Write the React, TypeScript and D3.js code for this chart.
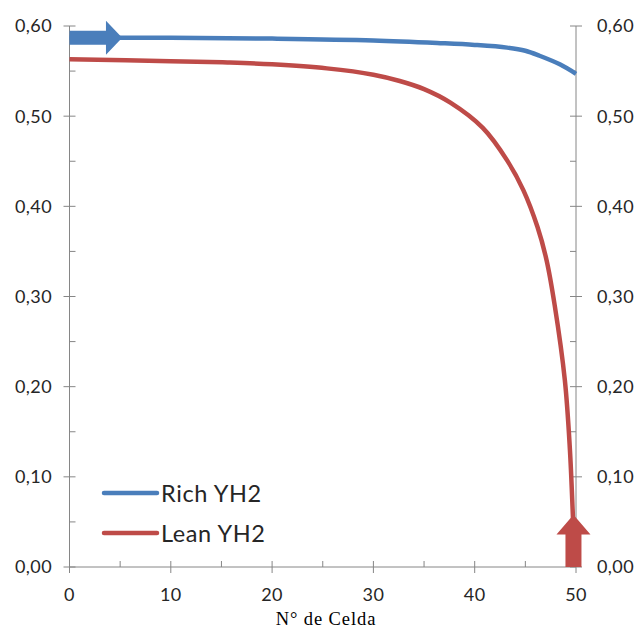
import React from "react";
import * as d3 from "d3";

const richCells = [0, 10, 20, 30, 36.6, 40, 43.2, 45, 46.4, 48.4, 50];
const richValues = [0.587, 0.587, 0.586, 0.584, 0.581, 0.579, 0.576, 0.5725, 0.567, 0.5575, 0.547];

const leanCells = [0, 10, 15.6, 20, 25.4, 30, 32.6, 35, 37.6, 40.8, 43.2, 44.8, 46.2, 47.1, 47.9, 48.9, 49.4, 49.7, 49.8];
const leanValues = [0.563, 0.561, 0.5595, 0.5575, 0.553, 0.546, 0.539, 0.53, 0.515, 0.487, 0.451, 0.418, 0.377, 0.34, 0.29, 0.207, 0.13, 0.055, 0.03];

const yTicks = [0, 0.1, 0.2, 0.3, 0.4, 0.5, 0.6];
const yMinorTicks = [0.05, 0.15, 0.25, 0.35, 0.45, 0.55];
const xTicks = [0, 10, 20, 30, 40, 50];
const xMinorTicks = [5, 15, 25, 35, 45];
const seriesNames = ["Rich YH2", "Lean YH2"];
const xTitle = "N° de Celda";

const BLUE = "#4A7EBB";
const RED = "#BE4B48";
const AXIS = "#868686";

export default function App() {
  const x = d3.scaleLinear().domain([0, 50]).range([69.5, 576]);
  const y = d3.scaleLinear().domain([0, 0.6]).range([567, 26]);
  const fmt = (v: number) => v.toFixed(2).replace(".", ",");

  const line = d3
    .line<[number, number]>()
    .x((d) => x(d[0]))
    .y((d) => y(d[1]))
    .curve(d3.curveCatmullRom.alpha(0.5));

  const rich: [number, number][] = richCells.map((c, i) => [c, richValues[i]]);
  const lean: [number, number][] = leanCells.map((c, i) => [c, leanValues[i]]);

  // Blue arrow (annotation)
  const by = y(0.587);
  const bx0 = x(0);
  const bxBase = x(3.6);
  const bxTip = x(5.2);
  const blueArrow = [
    [bx0, by - 7],
    [bxBase, by - 7],
    [bxBase, by - 17],
    [bxTip, by],
    [bxBase, by + 17],
    [bxBase, by + 7],
    [bx0, by + 7],
  ];
  // Red arrow
  const rx = x(49.75);
  const ry0 = y(0);
  const ryBase = y(0.036);
  const ryTip = y(0.058);
  const redArrow = [
    [rx - 8, ry0],
    [rx - 8, ryBase],
    [rx - 17, ryBase],
    [rx, ryTip],
    [rx + 17, ryBase],
    [rx + 8, ryBase],
    [rx + 8, ry0],
  ];

  const labelFont = "Lato, 'Open Sans', sans-serif";

  return (
    <svg
      width={640}
      height={630}
      style={{ position: "absolute", left: 0, top: 0, background: "#fff" }}
    >
      <line x1={x(0)} x2={x(0)} y1={y(0.6)} y2={y(0)} stroke={AXIS} strokeWidth={1} />
      <line x1={x(50)} x2={x(50)} y1={y(0.6)} y2={y(0)} stroke={AXIS} strokeWidth={1} />
      <line x1={x(0)} x2={x(50)} y1={y(0)} y2={y(0)} stroke={AXIS} strokeWidth={1} />

      {yTicks.map((t) => (
        <g key={"yt" + t}>
          <line x1={x(0) - 6} x2={x(0) + 6} y1={y(t)} y2={y(t)} stroke={AXIS} />
          <line x1={x(50) - 6} x2={x(50) + 6} y1={y(t)} y2={y(t)} stroke={AXIS} />
          <text
            x={52}
            y={y(t)}
            dy="0.36em"
            textAnchor="end"
            fontFamily={labelFont}
            fontSize={18}
            letterSpacing={0.4}
            fill="#262626"
          >
            {fmt(t)}
          </text>
          <text
            x={597}
            y={y(t)}
            dy="0.36em"
            textAnchor="start"
            fontFamily={labelFont}
            fontSize={18}
            letterSpacing={0.4}
            fill="#262626"
          >
            {fmt(t)}
          </text>
        </g>
      ))}
      {yMinorTicks.map((t) => (
        <g key={"ym" + t}>
          <line x1={x(0)} x2={x(0) + 6} y1={y(t)} y2={y(t)} stroke={AXIS} />
          <line x1={x(50) - 6} x2={x(50)} y1={y(t)} y2={y(t)} stroke={AXIS} />
        </g>
      ))}
      {xTicks.map((t) => (
        <g key={"xt" + t}>
          <line x1={x(t)} x2={x(t)} y1={y(0) - 6} y2={y(0) + 6} stroke={AXIS} />
          <text
            x={x(t)}
            y={601}
            textAnchor="middle"
            fontFamily={labelFont}
            fontSize={18}
            letterSpacing={0.4}
            fill="#262626"
          >
            {t}
          </text>
        </g>
      ))}
      {xMinorTicks.map((t) => (
        <line key={"xm" + t} x1={x(t)} x2={x(t)} y1={y(0) - 6} y2={y(0)} stroke={AXIS} />
      ))}

      <text
        x={326}
        y={625}
        textAnchor="middle"
        fontFamily="'Liberation Serif', 'Times New Roman', serif"
        fontSize={18.5}
        letterSpacing={0.9}
        fill="#000"
      >
        {xTitle}
      </text>

      <path d={line(rich) || ""} fill="none" stroke={BLUE} strokeWidth={4.5} />
      <path d={line(lean) || ""} fill="none" stroke={RED} strokeWidth={4.5} />

      <polygon points={blueArrow.map((p) => p.join(",")).join(" ")} fill={BLUE} />
      <polygon points={redArrow.map((p) => p.join(",")).join(" ")} fill={RED} />

      {seriesNames.map((name, i) => (
        <g key={name}>
          <line
            x1={104}
            x2={157}
            y1={493 + i * 40}
            y2={493 + i * 40}
            stroke={i === 0 ? BLUE : RED}
            strokeWidth={4.5}
            strokeLinecap="round"
          />
          <text
            x={161}
            y={493 + i * 40}
            dy="0.38em"
            fontFamily={labelFont}
            fontSize={23.5}
            letterSpacing={0.6}
            fill="#262626"
          >
            {name}
          </text>
        </g>
      ))}
    </svg>
  );
}
